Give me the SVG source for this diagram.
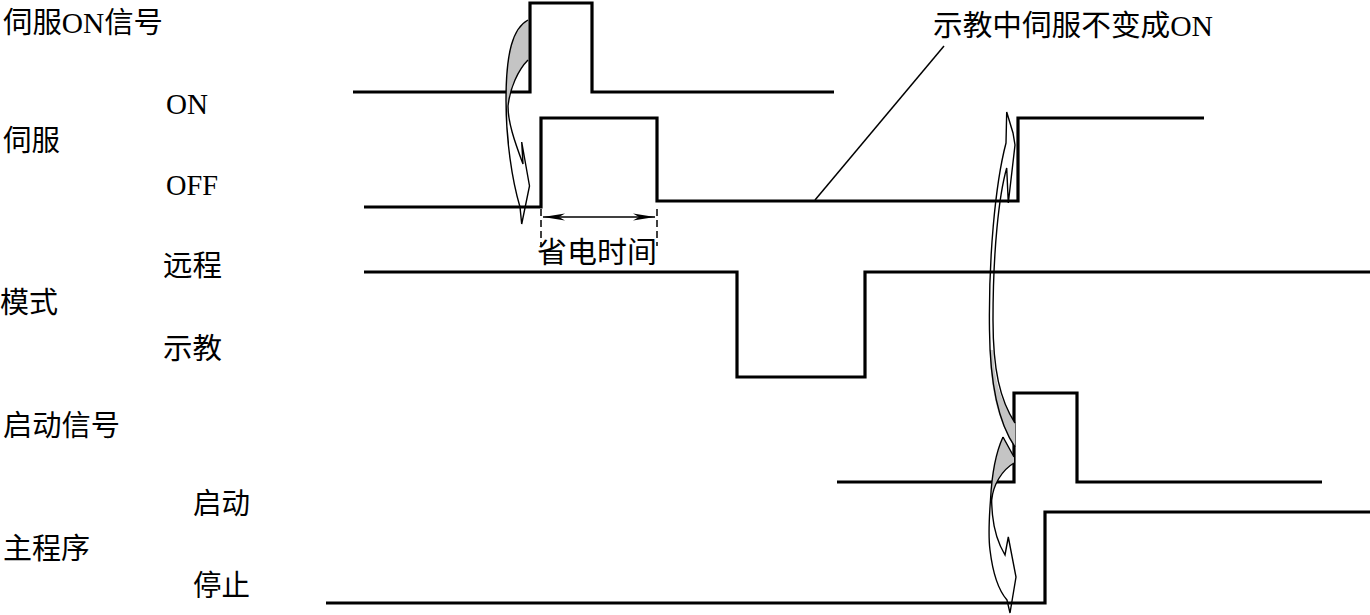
<svg xmlns="http://www.w3.org/2000/svg" width="1370" height="615" viewBox="0 0 1370 615">
<style>
.sig{fill:none;stroke:#000;stroke-width:3.2;stroke-linejoin:miter;stroke-linecap:butt}
.lbl{font-family:"Liberation Serif","Noto Sans CJK SC",serif;font-size:29px;fill:#000}
.arr{fill:none;stroke:#000;stroke-width:1.4;stroke-linejoin:miter}
.gray{fill:#c4c4c4;stroke:none}
.thin{stroke:#000;stroke-width:1.5;fill:none}
.dash{stroke:#000;stroke-width:1.5;stroke-dasharray:7 4;fill:none}
</style>
<defs>
<marker id="ah" markerWidth="24" markerHeight="8" refX="22" refY="4" orient="auto-start-reverse" markerUnits="userSpaceOnUse">
<path d="M0,0.5 L22,4 L0,7.5 L6,4 Z" fill="#000"/>
</marker>
</defs>
<rect width="1370" height="615" fill="#fff"/>
<g id="labels">
<text class="lbl" x="3" y="33" textLength="160" lengthAdjust="spacingAndGlyphs">伺服ON信号</text>
<text class="lbl" x="166" y="114" font-size="26" textLength="42" lengthAdjust="spacingAndGlyphs">ON</text>
<text class="lbl" x="3" y="151" textLength="57" lengthAdjust="spacingAndGlyphs">伺服</text>
<text class="lbl" x="166" y="195" font-size="26" textLength="52" lengthAdjust="spacingAndGlyphs">OFF</text>
<text class="lbl" x="163" y="276" textLength="59" lengthAdjust="spacingAndGlyphs">远程</text>
<text class="lbl" x="0" y="313" textLength="58" lengthAdjust="spacingAndGlyphs">模式</text>
<text class="lbl" x="163" y="359" textLength="59" lengthAdjust="spacingAndGlyphs">示教</text>
<text class="lbl" x="3" y="436" textLength="117" lengthAdjust="spacingAndGlyphs">启动信号</text>
<text class="lbl" x="193" y="514" textLength="57" lengthAdjust="spacingAndGlyphs">启动</text>
<text class="lbl" x="3" y="559" textLength="87" lengthAdjust="spacingAndGlyphs">主程序</text>
<text class="lbl" x="193" y="596" textLength="57" lengthAdjust="spacingAndGlyphs">停止</text>
<text class="lbl" x="537" y="263" font-size="31" textLength="120" lengthAdjust="spacingAndGlyphs">省电时间</text>
<text class="lbl" x="933" y="36" textLength="280" lengthAdjust="spacingAndGlyphs">示教中伺服不变成ON</text>
</g>
<g id="signals">
<path id="servo-on-signal" class="sig" d="M353,92 H530 V3 H592 V92 H834"/>
<path id="servo" class="sig" d="M364,207 H541 V118 H657 V201 H1018 V118 H1204"/>
<path id="mode" class="sig" d="M364,272 H737 V377 H865 V272 H1370"/>
<path id="start-signal" class="sig" d="M837,482 H1014 V393 H1077 V482 H1322"/>
<path id="main-program" class="sig" d="M326,603 H1045 V512 H1370"/>
</g>
<g id="connectors">
<line class="thin" x1="815" y1="200" x2="944" y2="46"/>
<line class="dash" x1="541" y1="209" x2="541" y2="246"/>
<line class="dash" x1="657" y1="209" x2="657" y2="246"/>
<line class="thin" x1="543" y1="217" x2="655" y2="217" marker-start="url(#ah)" marker-end="url(#ah)"/>
<!-- arrow 1 -->
<path class="gray" d="M528,20 C513,28 506,52 506,100 L508,106 C510,88 518,70 528,60 Z"/>
<path class="arr" d="M528,20 C513,28 506,52 506,100 C506,140 512,180 520,207 L521.7,224 L529.5,186 L521.7,142 L523,164 C514,140 508,122 508,106 C510,88 518,70 528,60"/>
<!-- arrow 2 (up) -->
<path class="gray" d="M989.8,350 C991,397 1000,425 1015,447 L1015,423 C1000,400 993.5,378 993.3,350 Z"/>
<path class="arr" d="M1015,447 C1000,425 990,390 989.5,330 C988.5,260 995,185 1006,143 L1006.7,112 L1013,133 L1015,145 L1008.3,203 L1006.7,168 C999,195 993,250 993,320 C993,370 1000,400 1015,423"/>
<!-- arrow 3 (down) -->
<path class="gray" d="M1003,437 C997,450 992,470 990.5,500 C993,485 1002,470 1014,463 L1014,457 Z"/>
<path class="arr" d="M1003,437 C997,450 992,470 990.5,500 C989,520 988,535 990,550 C993,575 1000,592 1007,600 L1010,613 L1016,577 L1008.3,537 L1005,555 C999,545 994,530 992.5,515 C992,508 991.5,503 991.7,500 C993,485 1002,470 1014,463 M1003,437 L1014,457"/>
</g>
</svg>
